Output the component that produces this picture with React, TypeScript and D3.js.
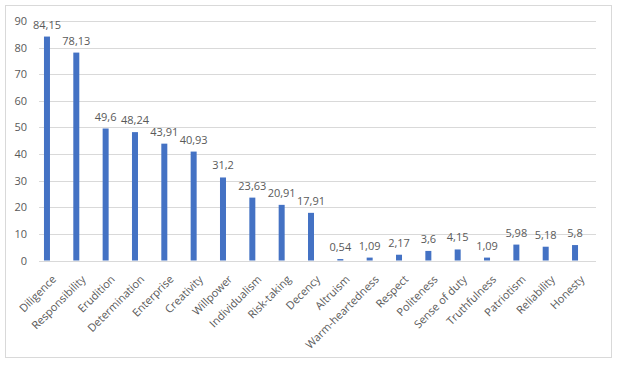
import React from "react";
import * as d3 from "d3";

const categories = [
  "Diligence", "Responsibility", "Erudition", "Determination", "Enterprise",
  "Creativity", "Willpower", "Individualism", "Risk-taking", "Decency",
  "Altruism", "Warm-heartedness", "Respect", "Politeness", "Sense of duty",
  "Truthfulness", "Patriotism", "Reliability", "Honesty",
];
const values = [
  84.15, 78.13, 49.6, 48.24, 43.91, 40.93, 31.2, 23.63, 20.91, 17.91,
  0.54, 1.09, 2.17, 3.6, 4.15, 1.09, 5.98, 5.18, 5.8,
];
const yTicks = [0, 10, 20, 30, 40, 50, 60, 70, 80, 90];

const W = 620;
const H = 366;
const FONT = "'Open Sans', 'Liberation Sans', sans-serif";
const TEXT = "#595959";

export default function App() {
  const x = d3.scaleBand<string>().domain(categories).range([32.3, 589.7]).paddingInner(0.8).paddingOuter(0.4);
  const y = d3.scaleLinear().domain([0, 90]).range([260.5, 21]);
  const fmt = (v: number) => String(v).replace(".", ",");
  const bw = 6;
  return (
    <svg width={W} height={H} style={{ position: "absolute", left: 0, top: 0 }} fontFamily={FONT}>
      <rect x={0} y={0} width={W} height={H} fill="#fff" />
      <rect x={5.5} y={5.5} width={606} height={352} fill="#fff" stroke="#D9D9D9" strokeWidth={1} />
      {yTicks.map((t) => (
        <g key={t}>
          <line x1={39} x2={596} y1={Math.round(y(t)) + 0.5} y2={Math.round(y(t)) + 0.5} stroke="#D9D9D9" strokeWidth={1} />
          <text x={27} y={y(t) + 4} textAnchor="end" fontSize={11} fill={TEXT}>{t}</text>
        </g>
      ))}
      {categories.map((c, i) => {
        const cx = (x(c) as number) + x.bandwidth() / 2;
        const v = values[i];
        return (
          <g key={c}>
            <rect x={cx - bw / 2} y={y(v)} width={bw} height={y(0) - y(v)} fill="#4472C4" />
            <text x={cx} y={y(v) - 8} textAnchor="middle" fontSize={11} fill={TEXT}>{fmt(v)}</text>
            <text transform={`translate(${cx + 10},${280}) rotate(-45)`} textAnchor="end" fontSize={11} fill={TEXT}>{c}</text>
          </g>
        );
      })}
    </svg>
  );
}
